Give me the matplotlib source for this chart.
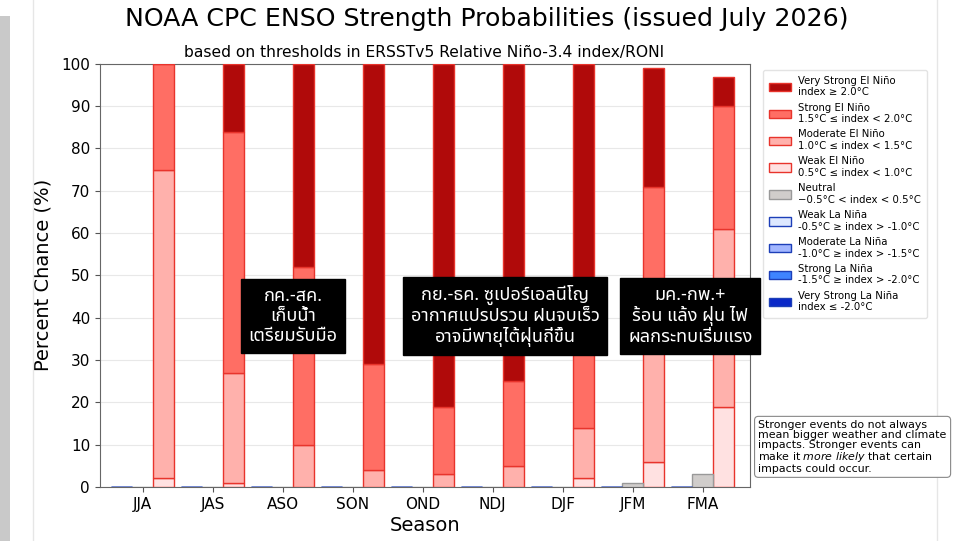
import numpy as np
import matplotlib
matplotlib.use("Agg")
import matplotlib.pyplot as plt
from matplotlib.patches import Rectangle

# data (percent)
seasons = ["JJA", "JAS", "ASO", "SON", "OND", "NDJ", "DJF", "JFM", "FMA"]
vs_nina = [0, 0, 0, 0, 0, 0, 0, 0, 0]
st_nina = [0, 0, 0, 0, 0, 0, 0, 0, 0]
mod_nina = [0, 0, 0, 0, 0, 0, 0, 0, 0]
weak_nina = [0, 0, 0, 0, 0, 0, 0, 0, 0]
neutral = [0, 0, 0, 0, 0, 0, 0, 1, 3]
weak_nino = [2, 1, 0, 0, 0, 0, 2, 6, 19]
mod_nino = [73, 26, 10, 4, 3, 5, 12, 34, 42]
st_nino = [25, 57, 42, 25, 16, 20, 26, 31, 29]
vs_nino = [0, 16, 48, 71, 81, 75, 60, 28, 7]

nino_labels = ["Very Strong El Niño\nindex ≥ 2.0°C",
               "Strong El Niño\n1.5°C ≤ index < 2.0°C",
               "Moderate El Niño\n1.0°C ≤ index < 1.5°C",
               "Weak El Niño\n0.5°C ≤ index < 1.0°C"]
nina_labels = ["Weak La Niña\n-0.5°C ≥ index > -1.0°C",
               "Moderate La Niña\n-1.0°C ≥ index > -1.5°C",
               "Strong La Niña\n-1.5°C ≥ index > -2.0°C",
               "Very Strong La Niña\nindex ≤ -2.0°C"]

notes = [
    "กค.-สค.\nเก็บน้ำ\nเตรียมรับมือ",
    "กย.-ธค. ซูเปอร์เอลนีโญ\nอากาศแปรปรวน ฝนจบเร็ว\nอาจมีพายุไต้ฝุ่นถี่ขึ้น",
    "มค.-กพ.+\nร้อน แล้ง ฝุ่น ไฟ\nผลกระทบเริ่มแรง",
]

thai = ["Noto Sans Thai", "Noto Sans Thai UI", "Noto Looped Thai", "Loma",
        "Garuda", "Sarabun", "Tlwg Typo", "Kinnari", "Norasi", "Waree",
        "DejaVu Sans"]

fig = plt.figure(figsize=(9.6, 5.41), dpi=100)
ax = fig.add_axes([0.104, 0.100, 0.677, 0.782])

x = np.arange(len(seasons))
w = 0.3

# El Nino stacked bars (right of tick)
nino_cols = ["#ffe1e1", "#ffb1ac", "#ff6e64", "#b00a0a"]
nino_vals = [weak_nino, mod_nino, st_nino, vs_nino]
bottom = np.zeros(len(seasons))
nino_handles = []
for vals, c in zip(nino_vals, nino_cols):
    h = ax.bar(x + w, vals, w, bottom=bottom, color=c, edgecolor="#e8342c",
               linewidth=1.0, zorder=3)
    nino_handles.append(h)
    bottom += np.array(vals)

# neutral (centered)
neu_h = ax.bar(x, neutral, w, color="#d0cdcb", edgecolor="#999999",
               linewidth=1.0, zorder=3)

# La Nina (left of tick)
nina_cols = ["#dde8ff", "#a2b6ff", "#3f84ff", "#0a28c8"]
nina_vals = [weak_nina, mod_nina, st_nina, vs_nina]
bottom = np.zeros(len(seasons))
nina_handles = []
for vals, c in zip(nina_vals, nina_cols):
    h = ax.bar(x - w, vals, w, bottom=bottom, color=c, edgecolor="#1d3fb8",
               linewidth=1.0, zorder=3)
    nina_handles.append(h)
    bottom += np.array(vals)

ax.set_xlim(-0.61, 8.67)
ax.set_ylim(0, 100)
ax.set_yticks(np.arange(0, 101, 10))
ax.set_xticks(x)
ax.set_xticklabels(seasons)
ax.tick_params(labelsize=11, color="#555555")
ax.grid(axis="y", color="#e8e8e8", linewidth=0.8, zorder=0)
ax.set_axisbelow(True)
for s in ax.spines.values():
    s.set_color("#666666")
ax.set_xlabel("Season", fontsize=14, labelpad=3)
ax.set_ylabel("Percent Chance (%)", fontsize=14, labelpad=6)

handles = nino_handles[::-1] + [neu_h] + nina_handles
labels = nino_labels + ["Neutral\n−0.5°C < index < 0.5°C"] + nina_labels
ax.legend(handles, labels, loc="upper left", bbox_to_anchor=(1.013, 0.997),
          fontsize=7.3, labelspacing=0.52, handlelength=2.2, handleheight=0.9,
          handletextpad=0.7, borderpad=0.55,
          frameon=True, edgecolor="#dddddd", fancybox=True)

fig.text(0.507, 0.964, "NOAA CPC ENSO Strength Probabilities (issued July 2026)",
         ha="center", va="center", fontsize=18.2)
fig.text(0.442, 0.903, "based on thresholds in ERSSTv5 Relative Niño-3.4 index/RONI",
         ha="center", va="center", fontsize=11.2)

fig.text(0.790, 0.174, "Stronger events do not always\nmean bigger weather and climate\n"
         "impacts. Stronger events can\nmake it $\\it{more\\ likely}$ that certain\n"
         "impacts could occur.",
         fontsize=7.9, va="center", ha="left", linespacing=0.98,
         bbox=dict(boxstyle="round,pad=0.35", fc="white", ec="#888888", lw=0.8))

# Thai overlay boxes
note_pos = [(0.305, 0.416), (0.526, 0.416), (0.719, 0.416)]
for (px, py), t in zip(note_pos, notes):
    fig.text(px, py, t, ha="center", va="center", color="white", fontsize=13,
             family=thai, linespacing=1.15, zorder=10,
             bbox=dict(boxstyle="square,pad=0.42", fc="black", ec="black"))

# screenshot frame edges
fig.add_artist(plt.Line2D([0.034, 0.034], [0, 1], color="#e6e6e6", lw=1))
fig.add_artist(plt.Line2D([0.976, 0.976], [0, 1], color="#e6e6e6", lw=1))
fig.add_artist(Rectangle((0, 0), 0.01, 0.97, color="#c9c9c9", lw=0,
                         transform=fig.transFigure))

fig.savefig("out.png", dpi=100)
